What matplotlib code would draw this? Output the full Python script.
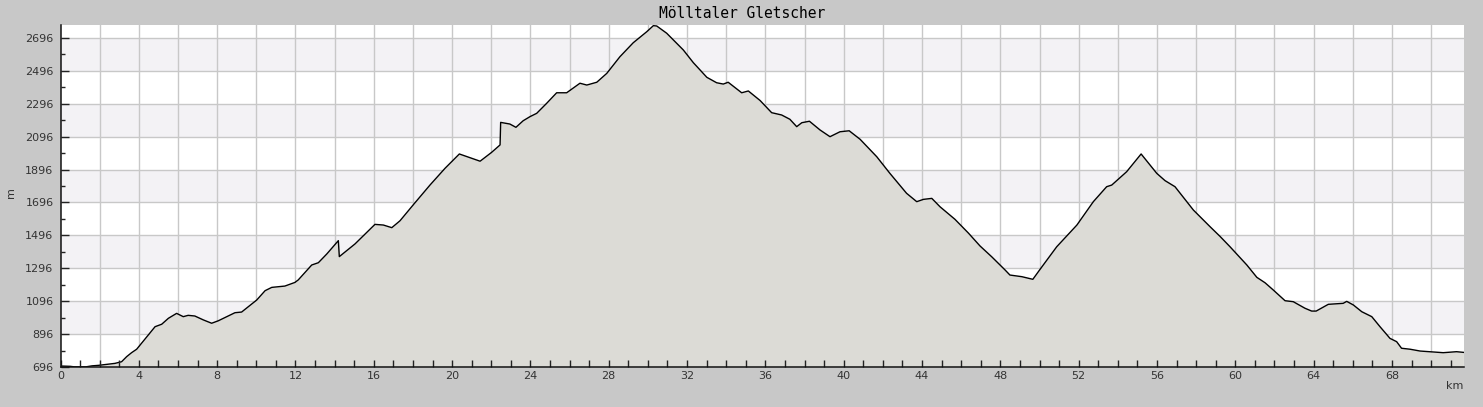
import numpy as np
import matplotlib
matplotlib.use("Agg")
import matplotlib.pyplot as plt
from matplotlib.ticker import MultipleLocator, FuncFormatter

title = "Mölltaler Gletscher"
km = [0, 0.50, 0.70, 1.30, 1.61, 1.94, 2.36, 2.78, 3.12, 3.38, 3.63, 3.89, 4.41, 4.83, 5.17, 5.51,
      5.93, 6.27, 6.52, 6.86, 7.30, 7.72, 8.06, 8.49, 8.91, 9.25, 9.59, 10.02, 10.45, 10.79,
      11.46, 11.97, 12.14, 12.83, 13.17, 13.60, 14.19, 14.24, 15.04, 16.06, 16.49, 16.92,
      17.34, 18.01, 18.87, 19.64, 20.37, 21.00, 21.43, 22.02, 22.45, 22.48, 22.95, 23.26,
      23.63, 23.98, 24.32, 24.83, 25.34, 25.85, 26.53, 26.88, 27.39, 27.90, 28.57, 29.25,
      29.94, 30.28, 30.45, 30.96, 31.81, 32.32, 33.01, 33.51, 33.85, 34.10, 34.79, 35.13,
      35.73, 36.32, 36.83, 37.25, 37.60, 37.86, 38.25, 38.79, 39.30, 39.81, 40.28, 40.84,
      41.69, 42.36, 43.21, 43.73, 44.07, 44.50, 44.92, 45.68, 46.37, 46.96, 47.56, 48.24,
      48.49, 49.10, 49.66, 50.03, 50.88, 51.91, 52.75, 53.43, 53.69, 54.45, 55.19, 55.99,
      56.41, 56.92, 57.86, 58.71, 59.22, 59.73, 60.59, 61.10, 61.52, 61.94, 62.54, 62.96,
      63.56, 63.90, 64.13, 64.75, 65.51, 65.69, 66.03, 66.46, 66.97, 67.39, 67.90, 68.24,
      68.49, 68.93, 69.44, 69.94, 70.62, 71.30, 71.65]
elev = [702, 700, 697, 697, 703, 706, 712, 718, 728, 759, 783, 804, 880, 941, 956, 992,
        1022, 1002, 1010, 1006, 982, 962, 977, 1002, 1026, 1030, 1062, 1103, 1160, 1180,
        1188, 1210, 1225, 1316, 1330, 1383, 1464, 1367, 1444, 1563, 1559, 1543,
        1585, 1681, 1802, 1904, 1991, 1965, 1947, 2001, 2046, 2183, 2173, 2153,
        2193, 2218, 2238, 2299, 2363, 2363, 2421, 2410, 2427, 2481, 2582, 2667,
        2734, 2771, 2769, 2725, 2623, 2546, 2457, 2424, 2416, 2427, 2363, 2374,
        2316, 2242, 2228, 2202, 2157, 2181, 2190, 2137, 2096, 2126, 2132, 2080,
        1974, 1873, 1752, 1701, 1715, 1721, 1670, 1594, 1510, 1432, 1366, 1286,
        1255, 1245, 1229, 1290, 1427, 1559, 1701, 1792, 1802, 1883, 1991, 1873,
        1829, 1792, 1650, 1549, 1490, 1427, 1316, 1241, 1208, 1164, 1099, 1093,
        1053, 1036, 1036, 1077, 1083, 1095, 1073, 1032, 1002, 941, 870, 850,
        810, 804, 793, 789, 783, 789, 785]
y_ticks = [696, 896, 1096, 1296, 1496, 1696, 1896, 2096, 2296, 2496, 2696]

bg = "#c8c8c8"
fig = plt.figure(figsize=(14.83, 4.07), dpi=100, facecolor=bg)
ax = fig.add_axes([60.5 / 1483, 1 - 367 / 407, (1464 - 60.5) / 1483, (367 - 25) / 407])
ax.set_facecolor("white")
ymin, ymax = 696, 2775
xmax = 71.68
ax.set_xlim(0, xmax)
ax.set_ylim(ymin, ymax)

# alternating bands
for i in range(len(y_ticks) - 1):
    if i % 2 == 1:
        ax.axhspan(y_ticks[i], y_ticks[i + 1], color="#f3f2f5", lw=0, zorder=0)

# grid lines
gc = "#c8c8c8"
for v in np.arange(2, xmax, 2):
    ax.axvline(v, color=gc, lw=1, zorder=0.5)
for v in y_ticks:
    ax.axhline(v, color=gc, lw=1, zorder=0.5)

ax.fill_between(km, elev, ymin, color="#dcdbd6", lw=0, zorder=2)
ax.plot(km, elev, color="black", lw=1.0, zorder=2.2)

for s in ["top", "right"]:
    ax.spines[s].set_visible(False)
for s in ["left", "bottom"]:
    ax.spines[s].set_color("#111111")
    ax.spines[s].set_linewidth(1.1)
    ax.spines[s].set_zorder(3)

ax.xaxis.set_major_locator(MultipleLocator(2))
ax.xaxis.set_minor_locator(MultipleLocator(1))
ax.xaxis.set_major_formatter(FuncFormatter(lambda v, p: f"{int(round(v))}" if int(round(v)) % 4 == 0 else ""))
ax.set_yticks(y_ticks)
ax.set_yticks(np.arange(796, 2776, 200), minor=True)

ax.tick_params(axis="both", which="both", direction="in", colors="#222222", labelcolor="#333333",
               labelsize=8, width=1)
ax.tick_params(axis="x", which="both", length=5, pad=3)
ax.tick_params(axis="y", which="major", length=6, pad=5)
ax.tick_params(axis="y", which="minor", length=3)
for t in ax.get_xticklines() + ax.get_yticklines() + ax.xaxis.get_minorticklines() + ax.yaxis.get_minorticklines():
    t.set_zorder(3)
ax.set_axisbelow(False)

fig.text(742 / 1483, 1 - 14 / 407, title, ha="center", va="center",
         family="DejaVu Sans Mono", fontsize=10.5, color="black")
fig.text(11 / 1483, 1 - 193 / 407, "m", rotation=90, ha="center", va="center", fontsize=8, color="#333333")
fig.text(1455 / 1483, 1 - 386 / 407, "km", ha="center", va="center", fontsize=8, color="#333333")

fig.savefig("out.png", dpi=100, facecolor=bg)
